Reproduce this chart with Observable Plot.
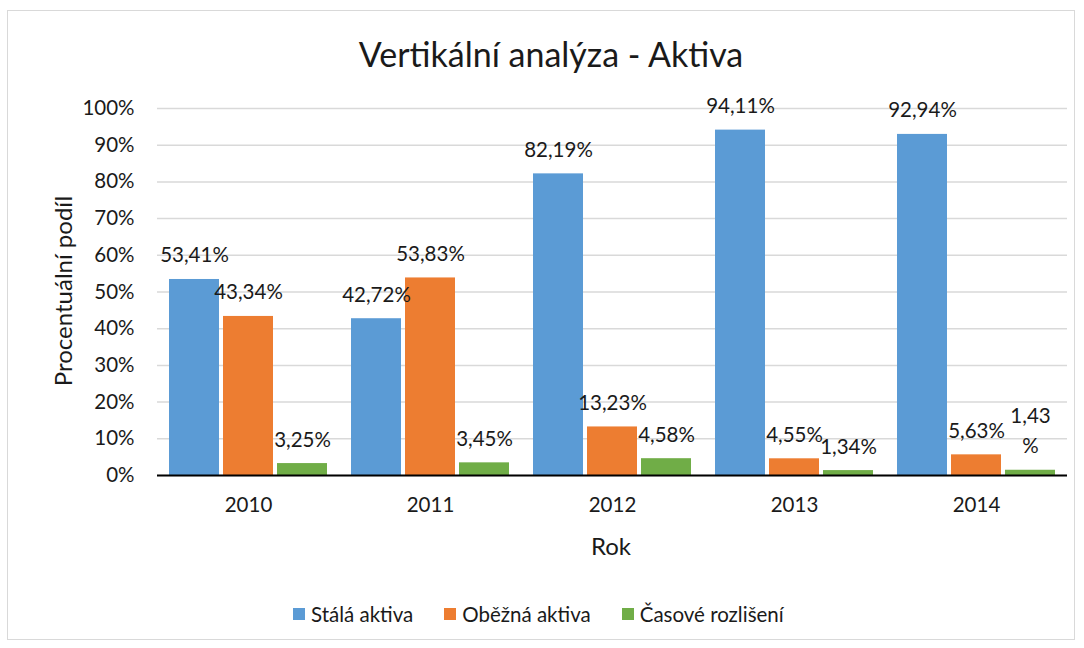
<!DOCTYPE html>
<html>
<head>
<meta charset="utf-8">
<script src="https://cdn.jsdelivr.net/npm/d3@7"></script>
<script src="https://cdn.jsdelivr.net/npm/@observablehq/plot@0.6"></script>
<style>
  html, body { margin: 0; padding: 0; background: #fff; }
  #wrap { position: relative; width: 1084px; height: 648px; overflow: hidden; font-family: Lato, "Open Sans", sans-serif; color: #1a1a1a; }
  #border { position: absolute; left: 7px; top: 10px; width: 1068px; height: 630px; border: 1px solid #d9d9d9; box-sizing: border-box; }
  #title { position: absolute; left: 0; width: 1102px; top: 32px; text-align: center; font-size: 34px; line-height: 44px; }
  #ylab { position: absolute; left: 62px; top: 291px; transform: translate(-50%, -50%) rotate(-90deg); font-size: 24px; white-space: nowrap; }
  #xlab { position: absolute; left: 611px; top: 545px; transform: translate(-50%, -50%); font-size: 24px; }
  #legend { position: absolute; left: 293px; top: 601px; display: flex; align-items: center; font-size: 20.5px; line-height: 26px; }
  .item { display: flex; align-items: center; margin-right: 31px; }
  .sw { width: 12px; height: 12px; margin-right: 6px; }
  #chart { position: absolute; left: 0; top: 0; }
</style>
</head>
<body>
<div id="wrap">
  <div id="border"></div>
  <div id="chart"></div>
  <div id="title">Vertikální analýza - Aktiva</div>
  <div id="ylab">Procentuální podíl</div>
  <div id="xlab">Rok</div>
  <div id="legend"></div>
</div>
<script>
const years = ["2010", "2011", "2012", "2013", "2014"];
const series = ["Stálá aktiva", "Oběžná aktiva", "Časové rozlišení"];
const colors = ["#5B9BD5", "#ED7D31", "#70AD47"];
const stalaAktiva = [53.41, 42.72, 82.19, 94.11, 92.94];
const obeznaAktiva = [43.34, 53.83, 13.23, 4.55, 5.63];
const casoveRozliseni = [3.25, 3.45, 4.58, 1.34, 1.43];
const stalaLabels = ["53,41%", "42,72%", "82,19%", "94,11%", "92,94%"];
const obeznaLabels = ["43,34%", "53,83%", "13,23%", "4,55%", "5,63%"];
const casoveLabels = ["3,25%", "3,45%", "4,58%", "1,34%", "1,43\n%"];
const yTicks = [0, 10, 20, 30, 40, 50, 60, 70, 80, 90, 100];

const valuesBySeries = [stalaAktiva, obeznaAktiva, casoveRozliseni];
const labelsBySeries = [stalaLabels, obeznaLabels, casoveLabels];
const data = [];
years.forEach((yr, i) => {
  series.forEach((s, j) => {
    data.push({year: yr, series: s, value: valuesBySeries[j][i], label: labelsBySeries[j][i]});
  });
});

const chart = Plot.plot({
  width: 1084,
  height: 648,
  marginLeft: 157,
  marginRight: 17,
  marginTop: 108,
  marginBottom: 173,
  style: {fontFamily: "Lato, 'Open Sans', sans-serif", color: "#1a1a1a", background: "transparent"},
  fx: {domain: years, padding: 0},
  x: {domain: series, paddingInner: 0.074, paddingOuter: 0.22, axis: null},
  y: {domain: [0, 100], axis: null},
  color: {domain: series, range: colors},
  marks: [
    Plot.gridY(yTicks, {stroke: "#d9d9d9", strokeOpacity: 1, strokeWidth: 1.5}),
    Plot.barY(data, {fx: "year", x: "series", y: "value", fill: "series"}),
    Plot.ruleY([0], {stroke: "#000", strokeWidth: 2}),
    Plot.text(data, {fx: "year", x: "series", y: "value", text: "label", dy: -17, lineAnchor: "bottom", lineHeight: 1.5, fontSize: 20.5, fill: "#1a1a1a"}),
    Plot.axisY(yTicks, {tickSize: 0, tickPadding: 23, tickFormat: d => d + "%", fontSize: 20.5, label: null}),
    Plot.axisFx({anchor: "bottom", tickSize: 0, tickPadding: 22, fontSize: 20.5, label: null})
  ]
});
document.getElementById("chart").appendChild(chart);

const legend = document.getElementById("legend");
series.forEach((s, j) => {
  const it = document.createElement("div");
  it.className = "item";
  const sw = document.createElement("div");
  sw.className = "sw";
  sw.style.background = colors[j];
  const t = document.createElement("span");
  t.textContent = s;
  it.appendChild(sw);
  it.appendChild(t);
  legend.appendChild(it);
});
</script>
</body>
</html>
